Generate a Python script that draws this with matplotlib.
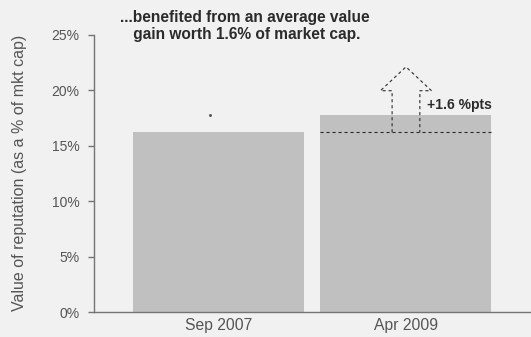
import matplotlib
matplotlib.use("Agg")
import matplotlib.pyplot as plt
from matplotlib.patches import Polygon

plt.rcParams['font.family'] = ['Liberation Sans', 'DejaVu Sans']

# Data
periods = ["Sep 2007", "Apr 2009"]
reputation_pct = [16.2, 17.8]
y_ticks = [0, 5, 10, 15, 20, 25]
y_tick_labels = ["0%", "5%", "10%", "15%", "20%", "25%"]
gain_label = "+1.6 %pts"
headline = "...benefited from an average value\n gain worth 1.6% of market cap."
y_title = "Value of reputation (as a % of mkt cap)"

BG = "#f1f1f1"
BAR = "#bfc0bf"
DARK = "#2b2b2b"
GREY_TXT = "#555555"
AXIS = "#747474"

fig = plt.figure(figsize=(5.31, 3.37), dpi=100, facecolor=BG)
ax = fig.add_axes([93.5 / 531, 1 - 312 / 337, 1 - 93.5 / 531, (312 - 34.7) / 337])
ax.set_facecolor(BG)

x = list(range(len(periods)))
bar_w = 0.912
ax.bar(x, reputation_pct, width=bar_w, color=BAR, zorder=1)

ax.set_xlim(-0.667, 1.667)
ax.set_ylim(0, 25)

# Spines
for s in ("top", "right"):
    ax.spines[s].set_visible(False)
for s in ("left", "bottom"):
    ax.spines[s].set_color(AXIS)
    ax.spines[s].set_linewidth(1.0)

ax.set_yticks(y_ticks)
ax.set_yticklabels(y_tick_labels)
ax.tick_params(axis="y", length=4.5, width=1.0, color=AXIS, pad=5.5,
               labelsize=10, labelcolor=GREY_TXT)
ax.set_xticks(x)
ax.set_xticklabels(periods)
ax.tick_params(axis="x", length=0, pad=4, labelsize=11.3, labelcolor=GREY_TXT)

ax.set_ylabel(y_title, fontsize=11.5, color=GREY_TXT, labelpad=18)

# Previous level carried over onto the second bar
before, after = reputation_pct
xc = x[1]
dash = (0, (2.8, 2.6))
ax.plot([xc - bar_w / 2, xc + bar_w / 2], [before, before], color=DARK,
        lw=0.8, ls=dash, zorder=3)

# Dashed outline arrow showing the gain
shaft_hw, head_hw = 0.074, 0.136
head_base = after + 2.15
tip = after + 4.3
arrow_pts = [
    (xc - shaft_hw, before), (xc - shaft_hw, head_base), (xc - head_hw, head_base),
    (xc, tip), (xc + head_hw, head_base), (xc + shaft_hw, head_base),
    (xc + shaft_hw, before),
]
ax.add_patch(Polygon(arrow_pts, closed=False, fill=False, edgecolor=DARK,
                     lw=0.8, ls=dash, zorder=3))

ax.text(xc + 0.11, after + 0.9, gain_label, fontsize=10, fontweight="bold",
        color=DARK, va="center", ha="left")

# small stray marker above the first bar
ax.plot([x[0] - 0.045], [after], marker="s", ms=1.0, color="#555555", lw=0)

fig.text(245 / 531, 1 - 26.2 / 337, headline, fontsize=11.2, fontweight="bold",
         color=DARK, ha="center", va="center", linespacing=1.2)

fig.savefig("out.png", dpi=100, facecolor=BG)
